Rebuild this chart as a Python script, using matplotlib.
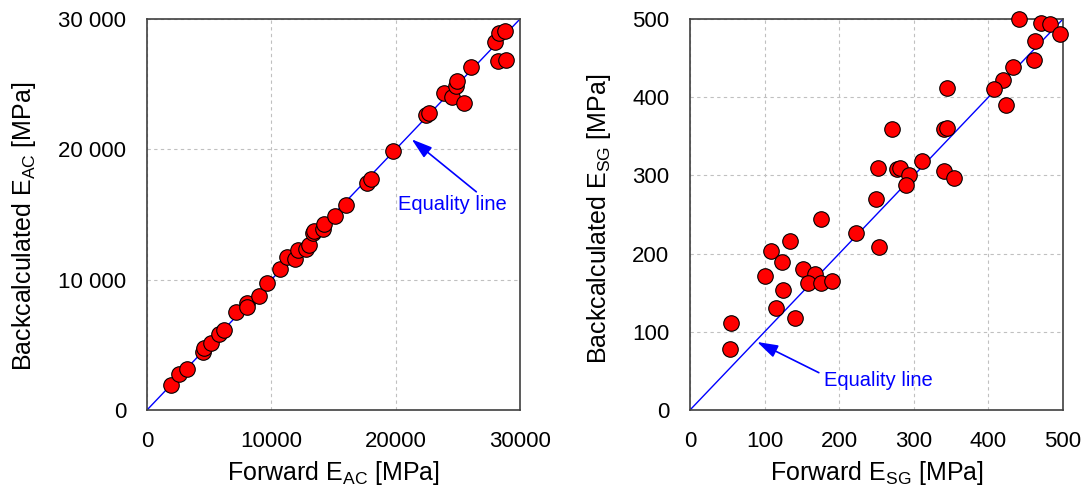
import matplotlib
matplotlib.use("Agg")

import matplotlib.pyplot as plt
import matplotlib.ticker as mticker
import numpy as np

plt.rcParams["font.family"] = ["Liberation Sans", "DejaVu Sans"]
plt.rcParams["mathtext.fontset"] = "custom"
plt.rcParams["mathtext.rm"] = "Liberation Sans"

# ---- asphalt concrete layer (E_AC) ----
ac_forward = [1900, 2600, 3190, 4480, 4590, 5120, 5770, 6190, 7160, 8020,
              8070, 8980, 9680, 10700, 11240, 11870, 12150, 12790, 13060, 13320,
              13430, 14190, 14240, 15100, 16010, 17670, 18050, 19760, 22450, 22660,
              23890, 24540, 24860, 24960, 25500, 26090, 28020, 28340, 28770, 28240,
              28880]
ac_back = [1920, 2760, 3150, 4480, 4730, 5170, 5810, 6140, 7550, 8240,
           7930, 8770, 9750, 10840, 11740, 11560, 12280, 12330, 12640, 13560,
           13710, 13910, 14270, 14890, 15710, 17450, 17700, 19900, 22620, 22770,
           24300, 23990, 24870, 25270, 23590, 26300, 28240, 28960, 29110, 26760,
           26860]

# ---- subgrade (E_SG) ----
sg_forward = [441, 470, 482, 496, 462, 461, 433, 420, 407, 423,
              345, 271, 340, 345, 252, 277, 281, 293, 311, 340,
              354, 289, 249, 175, 222, 253, 134, 108, 123, 151,
              167, 158, 176, 191, 101, 124, 115, 141, 55, 53]
sg_back = [500, 495, 493, 481, 472, 448, 438, 422, 411, 390,
           412, 359, 359, 361, 310, 308, 309, 301, 319, 305,
           297, 288, 270, 244, 226, 209, 216, 203, 189, 180,
           174, 163, 163, 165, 171, 153, 130, 118, 111, 78]

fig = plt.figure(figsize=(10.87, 4.88), dpi=100)
ax1 = fig.add_axes([147 / 1087, 1 - 410 / 488, 373 / 1087, 391 / 488])
ax2 = fig.add_axes([690 / 1087, 1 - 410 / 488, 373 / 1087, 391 / 488])


def style_axes(ax, lim, step):
    ax.set_xlim(0, lim)
    ax.set_ylim(0, lim)
    ax.set_xticks(np.arange(0, lim + 1, step))
    ax.set_yticks(np.arange(0, lim + 1, step))
    ax.grid(True, color="#c0c0c0", linestyle=(0, (3, 3)), linewidth=0.8)
    ax.set_axisbelow(True)
    ax.tick_params(length=0, labelsize=16, pad=15)
    for sp in ax.spines.values():
        sp.set_color("#404040")
        sp.set_linewidth(1.2)


arrow_style = dict(arrowstyle="-|>,head_length=0.7,head_width=0.22", color="blue",
                   lw=1.2, shrinkA=0, shrinkB=0, mutation_scale=18)

# left panel
style_axes(ax1, 30000, 10000)
ax1.yaxis.set_major_formatter(
    mticker.FuncFormatter(lambda v, p: f"{int(v):,}".replace(",", " "))
)
ax1.plot([0, 30000], [0, 30000], color="blue", linewidth=1.0, zorder=2)
ax1.scatter(ac_forward, ac_back, s=125, c="red", edgecolors="black",
            linewidths=0.8, zorder=3, clip_on=False)
ax1.annotate("Equality line", xy=(21290, 20770), xytext=(20200, 15800),
             color="blue", fontsize=14.5, va="center", ha="left",
             arrowprops=dict(arrow_style, relpos=(0.75, 1.0)))
ax1.set_xlabel(r"Forward E$_\mathregular{AC}$ [MPa]", fontsize=18)
ax1.set_ylabel(r"Backcalculated E$_\mathregular{AC}$ [MPa]", fontsize=18)
ax1.xaxis.set_label_coords(0.5, -0.125)
ax1.yaxis.set_label_coords(-0.292, 0.47)

# right panel
style_axes(ax2, 500, 100)
ax2.plot([0, 500], [0, 500], color="blue", linewidth=1.0, zorder=2)
ax2.scatter(sg_forward, sg_back, s=125, c="red", edgecolors="black",
            linewidths=0.8, zorder=3, clip_on=False)
ax2.annotate("Equality line", xy=(90, 87), xytext=(180, 38),
             color="blue", fontsize=14.5, va="center", ha="left",
             arrowprops=dict(arrow_style, relpos=(-0.05, 0.9)))
ax2.set_xlabel(r"Forward E$_\mathregular{SG}$ [MPa]", fontsize=18)
ax2.set_ylabel(r"Backcalculated E$_\mathregular{SG}$ [MPa]", fontsize=18)
ax2.xaxis.set_label_coords(0.5, -0.125)
ax2.yaxis.set_label_coords(-0.206, 0.49)

fig.savefig("out.png", dpi=100)
